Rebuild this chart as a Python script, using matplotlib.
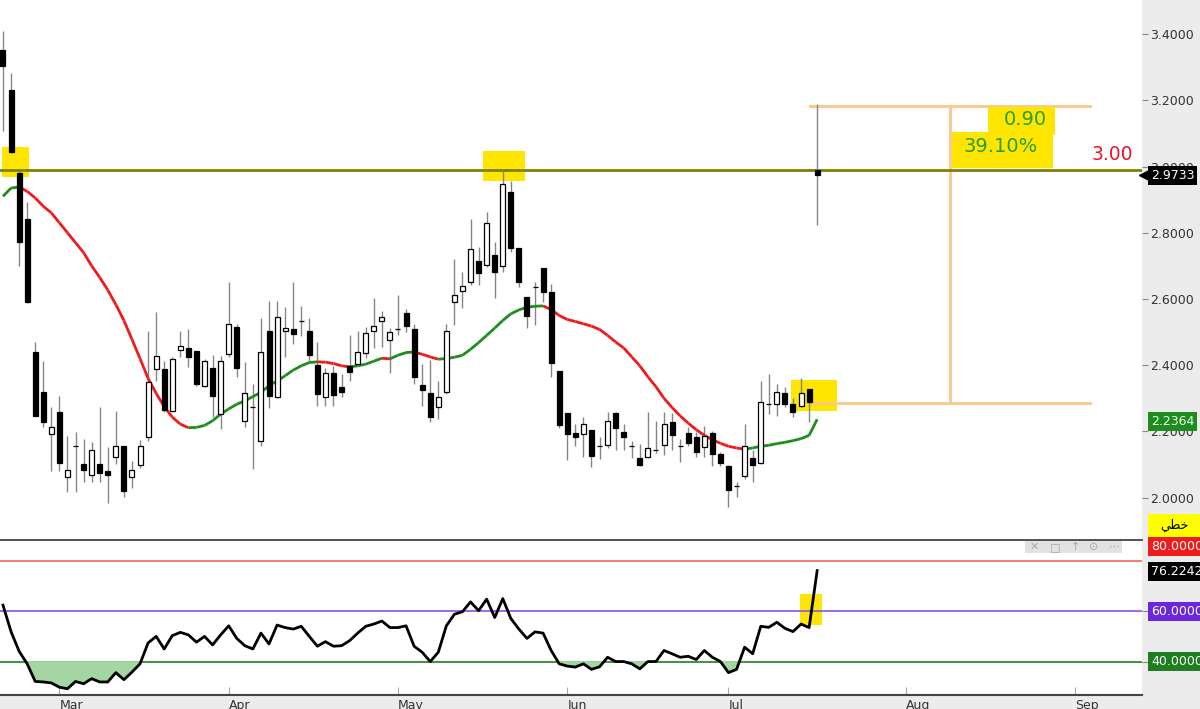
import matplotlib
matplotlib.use('Agg')
import matplotlib.pyplot as plt
import matplotlib.transforms as mtransforms
from matplotlib.collections import LineCollection
from matplotlib.patches import Rectangle
import numpy as np

# daily candles (one per trading day, index 0 = late Feb)
opens = [3.351, 3.230, 2.979, 2.842, 2.439, 2.318, 2.191, 2.258, 2.061, 2.155,
         2.100, 2.067, 2.100, 2.079, 2.124, 2.155, 2.061, 2.097, 2.182, 2.388,
         2.388, 2.261, 2.445, 2.452, 2.442, 2.336, 2.391, 2.252, 2.433, 2.515,
         2.230, 2.273, 2.170, 2.503, 2.303, 2.503, 2.509, 2.533, 2.503, 2.400,
         2.303, 2.376, 2.333, 2.397, 2.403, 2.436, 2.503, 2.533, 2.476, 2.509,
         2.558, 2.509, 2.339, 2.315, 2.273, 2.318, 2.591, 2.624, 2.652, 2.715,
         2.703, 2.733, 2.700, 2.924, 2.755, 2.606, 2.636, 2.694, 2.621, 2.382,
         2.255, 2.194, 2.191, 2.203, 2.155, 2.158, 2.255, 2.197, 2.155, 2.121,
         2.124, 2.145, 2.158, 2.227, 2.155, 2.194, 2.182, 2.152, 2.194, 2.133,
         2.094, 2.036, 2.064, 2.121, 2.106, 2.282, 2.282, 2.315, 2.282, 2.276,
         2.327, 2.990]
highs = [3.409, 3.282, 2.988, 2.894, 2.470, 2.412, 2.273, 2.306, 2.185, 2.197,
         2.176, 2.167, 2.273, 2.152, 2.261, 2.155, 2.112, 2.173, 2.503, 2.561,
         2.412, 2.424, 2.503, 2.509, 2.442, 2.418, 2.430, 2.427, 2.652, 2.524,
         2.409, 2.342, 2.542, 2.594, 2.594, 2.576, 2.652, 2.579, 2.542, 2.470,
         2.391, 2.397, 2.373, 2.491, 2.503, 2.515, 2.603, 2.564, 2.512, 2.612,
         2.570, 2.524, 2.403, 2.415, 2.352, 2.524, 2.721, 2.682, 2.842, 2.758,
         2.864, 2.773, 2.994, 2.955, 2.755, 2.606, 2.652, 2.694, 2.645, 2.382,
         2.255, 2.221, 2.242, 2.203, 2.182, 2.258, 2.258, 2.221, 2.170, 2.161,
         2.258, 2.230, 2.258, 2.255, 2.176, 2.212, 2.197, 2.215, 2.200, 2.139,
         2.097, 2.048, 2.221, 2.145, 2.352, 2.373, 2.342, 2.333, 2.300, 2.361,
         2.327, 3.188]
lows = [3.106, 3.040, 2.700, 2.588, 2.245, 2.212, 2.079, 2.079, 2.018, 2.018,
        2.046, 2.046, 2.046, 1.985, 2.100, 2.003, 2.030, 2.090, 2.170, 2.352,
        2.258, 2.258, 2.424, 2.394, 2.338, 2.333, 2.242, 2.206, 2.424, 2.364,
        2.212, 2.085, 2.155, 2.270, 2.300, 2.424, 2.464, 2.488, 2.409, 2.276,
        2.276, 2.276, 2.303, 2.352, 2.397, 2.421, 2.452, 2.455, 2.376, 2.490,
        2.500, 2.342, 2.276, 2.227, 2.236, 2.312, 2.521, 2.573, 2.642, 2.642,
        2.697, 2.603, 2.682, 2.742, 2.636, 2.512, 2.521, 2.591, 2.364, 2.209,
        2.115, 2.155, 2.124, 2.091, 2.118, 2.150, 2.145, 2.145, 2.121, 2.095,
        2.121, 2.136, 2.130, 2.145, 2.109, 2.155, 2.124, 2.124, 2.094, 2.094,
        1.973, 2.003, 2.055, 2.048, 2.100, 2.252, 2.245, 2.273, 2.242, 2.273,
        2.227, 2.824]
closes = [3.303, 3.045, 2.773, 2.591, 2.245, 2.227, 2.212, 2.106, 2.082, 2.155,
          2.082, 2.145, 2.073, 2.067, 2.155, 2.021, 2.082, 2.155, 2.349, 2.427,
          2.264, 2.418, 2.458, 2.424, 2.342, 2.412, 2.306, 2.412, 2.524, 2.391,
          2.315, 2.273, 2.439, 2.306, 2.545, 2.512, 2.494, 2.533, 2.430, 2.312,
          2.376, 2.309, 2.318, 2.379, 2.439, 2.497, 2.518, 2.545, 2.500, 2.509,
          2.518, 2.364, 2.324, 2.242, 2.303, 2.503, 2.612, 2.639, 2.752, 2.679,
          2.830, 2.682, 2.948, 2.755, 2.652, 2.548, 2.636, 2.621, 2.406, 2.218,
          2.191, 2.182, 2.221, 2.127, 2.155, 2.230, 2.209, 2.182, 2.155, 2.097,
          2.149, 2.145, 2.221, 2.188, 2.155, 2.164, 2.139, 2.185, 2.133, 2.106,
          2.024, 2.036, 2.155, 2.097, 2.288, 2.282, 2.318, 2.282, 2.258, 2.315,
          2.288, 2.9733]

# moving average
ma_values = [2.910, 2.935, 2.938, 2.925, 2.905, 2.880, 2.860, 2.830, 2.800, 2.770,
             2.740, 2.700, 2.665, 2.627, 2.583, 2.535, 2.478, 2.420, 2.360, 2.315,
             2.275, 2.243, 2.222, 2.211, 2.212, 2.218, 2.232, 2.252, 2.268, 2.282,
             2.292, 2.305, 2.318, 2.338, 2.352, 2.368, 2.385, 2.398, 2.408, 2.410,
             2.409, 2.405, 2.398, 2.395, 2.398, 2.403, 2.412, 2.421, 2.419, 2.430,
             2.438, 2.440, 2.433, 2.425, 2.418, 2.420, 2.424, 2.430, 2.448, 2.468,
             2.490, 2.512, 2.535, 2.555, 2.567, 2.575, 2.578, 2.579, 2.568, 2.550,
             2.538, 2.532, 2.525, 2.518, 2.508, 2.490, 2.470, 2.452, 2.425, 2.398,
             2.365, 2.335, 2.300, 2.272, 2.247, 2.225, 2.205, 2.188, 2.175, 2.164,
             2.155, 2.150, 2.146, 2.150, 2.155, 2.158, 2.163, 2.167, 2.172, 2.178,
             2.188, 2.2364]

rsi_values = [62.5, 52.0, 44.2, 39.2, 32.2, 32.0, 31.6, 29.9, 29.3, 32.2,
              31.3, 33.3, 32.0, 32.0, 35.7, 32.9, 35.9, 39.2, 47.5, 50.1,
              45.1, 50.4, 51.7, 50.7, 47.8, 50.1, 46.7, 50.7, 54.3, 49.3,
              46.4, 45.1, 51.4, 47.1, 54.6, 53.6, 53.0, 54.1, 50.1, 46.2,
              48.0, 46.2, 46.4, 48.4, 51.4, 54.1, 55.0, 56.2, 53.6, 53.6,
              54.3, 46.2, 43.8, 40.1, 43.8, 54.3, 58.9, 59.9, 63.8, 60.3,
              64.9, 57.6, 65.1, 57.2, 53.0, 49.3, 51.9, 51.4, 44.5, 39.2,
              38.3, 37.9, 39.2, 37.0, 38.0, 41.8, 40.1, 40.1, 39.2, 37.2,
              40.1, 40.1, 44.5, 43.2, 41.8, 42.2, 40.9, 44.5, 41.8, 40.1,
              35.7, 37.0, 45.8, 43.2, 54.1, 53.7, 55.7, 53.3, 52.0, 55.0,
              53.6, 76.2242]

month_ticks = [7, 28, 49, 70, 90, 112, 133]
month_labels = ['Mar', 'Apr', 'May', 'Jun', 'Jul', 'Aug', 'Sep']
price_ticks = [2.0, 2.2, 2.4, 2.6, 2.8, 3.0, 3.2, 3.4]

resistance = 2.99
range_low = 2.286
range_high = 3.183

x = np.arange(len(closes))
o = np.array(opens)
h = np.array(highs)
l = np.array(lows)
c = np.array(closes)
ma = np.array(ma_values)
rsi = np.array(rsi_values)

fig = plt.figure(figsize=(12, 7.09), dpi=100)
fig.patch.set_facecolor('#ececec')
ax = fig.add_axes([0, 0.2384, 0.9517, 0.7616])
ax2 = fig.add_axes([0, 0.0197, 0.9517, 0.2187], sharex=ax)

YELLOW = '#ffe600'
ORANGE = '#f9c88c'

# ---- main price panel ----
ax.set_xlim(-0.37, 141.3)
ax.set_ylim(1.872, 3.503)

# highlight boxes behind the candles
for x0, x1, y0, y1 in [(-0.12, 3.2, 2.968, 3.059), (59.6, 64.8, 2.956, 3.047), (97.8, 103.5, 2.261, 2.355)]:
    ax.add_patch(Rectangle((x0, y0), x1 - x0, y1 - y0, facecolor=YELLOW, edgecolor='none', zorder=1))

ax.axhline(resistance, color='#7f7f00', lw=2, zorder=1.5)

ax.vlines(x, l, h, color='#858585', lw=1, zorder=2)
bottoms = np.minimum(o, c)
heights = np.abs(c - o)
body_colors = ['black' if cc < oo else 'white' for oo, cc in zip(o, c)]
ax.bar(x, heights, bottom=bottoms, width=0.62, color=body_colors, edgecolor='black', lw=0.9, zorder=3)

# moving average, green when rising and red when falling
pts = np.column_stack([x, ma])
segs = np.stack([pts[:-1], pts[1:]], axis=1)
seg_colors = ['#1e8c1e' if ma[i + 1] >= ma[i] else '#ee1b1b' for i in range(len(ma) - 1)]
ax.add_collection(LineCollection(segs, colors=seg_colors, linewidths=2, zorder=2.6))

# measured move drawing
ax.plot([100.1, 134.9], [range_high, range_high], color=ORANGE, lw=2, zorder=1.2)
ax.plot([100.1, 134.9], [range_low, range_low], color=ORANGE, lw=2, zorder=1.2)
ax.plot([117.5, 117.5], [range_low, range_high], color=ORANGE, lw=2, zorder=1.2)
ax.add_patch(Rectangle((122.2, 3.095), 8.3, 0.085, facecolor=YELLOW, edgecolor='none', zorder=1.3))
ax.add_patch(Rectangle((117.7, 2.995), 12.6, 0.109, facecolor=YELLOW, edgecolor='none', zorder=1.3))
ax.text(126.8, 3.143, '0.90', color='#2a9d2a', fontsize=14, ha='center', va='center', zorder=4)
ax.text(123.7, 3.062, '39.10%', color='#2a9d2a', fontsize=14, ha='center', va='center', zorder=4)
ax.text(137.6, 3.035, '3.00', color='#e8142a', fontsize=13.5, ha='center', va='center', zorder=4)

ax.yaxis.tick_right()
ax.set_yticks(price_ticks)
ax.set_yticklabels(['%.4f' % p for p in price_ticks])
ax.tick_params(axis='y', direction='out', length=4, pad=2, labelsize=9, colors='#888888', labelcolor='#333333')
ax.tick_params(axis='x', bottom=False, labelbottom=False)
for s in ax.spines.values():
    s.set_visible(False)

trans = mtransforms.blended_transform_factory(ax.transAxes, ax.transData)
ax.text(1.008, closes[-1], '%.4f' % closes[-1], transform=trans, color='white', fontsize=9,
        ha='left', va='center', zorder=5, clip_on=False,
        bbox=dict(boxstyle='square,pad=0.22', fc='black', ec='none'))
ax.plot([1.003], [closes[-1]], marker='<', color='black', markersize=8, transform=trans, clip_on=False, zorder=5)
ax.text(1.008, ma_values[-1] - 0.006, '%.4f' % ma_values[-1], transform=trans, color='#eaffea', fontsize=9,
        ha='left', va='center', zorder=5, clip_on=False,
        bbox=dict(boxstyle='square,pad=0.22', fc='#1e8c1e', ec='none'))

# ---- RSI panel ----
ax2.set_ylim(26.8, 88.4)
ax2.add_patch(Rectangle((98.9, 54.8), 2.7, 12.0, facecolor=YELLOW, edgecolor='none', zorder=1))
ax2.axhline(80, color='#f07070', lw=1.3, zorder=1.5)
ax2.axhline(60, color='#9060e0', lw=1.3, zorder=1.5)
ax2.axhline(40, color='#2e8b2e', lw=1.3, zorder=1.5)
ax2.fill_between(x, rsi, 40, where=rsi < 40, interpolate=True, color='#a3d6a3', zorder=1.8)
ax2.plot(x, rsi, color='black', lw=2, zorder=3)

ax2.yaxis.tick_right()
ax2.set_yticks([60, 40])
ax2.set_yticklabels(['', ''])
ax2.tick_params(axis='y', direction='out', length=4, colors='#888888')
ax2.set_xticks(month_ticks)
ax2.set_xticklabels(month_labels)
ax2.tick_params(axis='x', direction='in', length=6, color='#aaaaaa', labelsize=9, pad=3, labelcolor='#333333')
for lbl in ax2.get_xticklabels():
    lbl.set_ha('left')
for side in ['left', 'right']:
    ax2.spines[side].set_visible(False)
ax2.spines['top'].set_color('#333333')
ax2.spines['top'].set_linewidth(1.2)
ax2.spines['bottom'].set_color('#444444')
ax2.spines['bottom'].set_linewidth(1.5)

trans2 = mtransforms.blended_transform_factory(ax2.transAxes, ax2.transData)
for val, txt, col in [(86.0, '80.0000', '#ee1c1c'), (76.0, '%.4f' % rsi_values[-1], 'black'),
                      (60.0, '60.0000', '#6a28d8'), (40.0, '40.0000', '#1e7d1e')]:
    ax2.text(1.008, val, txt, transform=trans2, color='white', fontsize=9, ha='left', va='center',
             clip_on=False, zorder=5, bbox=dict(boxstyle='square,pad=0.25', fc=col, ec='none'))

# small toolbar in the indicator pane
ax2.add_patch(Rectangle((0.8976, 0.915), 0.085, 0.08, transform=ax2.transAxes, facecolor='#e2e2e2',
                        edgecolor='none', zorder=4))
for xp, sym in zip([1034, 1055, 1075, 1094, 1114], ['✕', '□', '↑', '⊙', '⋯']):
    ax2.text(xp / 1142, 0.955, sym, transform=ax2.transAxes, color='#a8a8a8', fontsize=8,
             ha='center', va='center', zorder=5)

# chart type label
fig.patches.append(Rectangle((1148 / 1200, 1 - 537 / 709), 52 / 1200, 23 / 709, transform=fig.transFigure,
                             facecolor='#ffff00', edgecolor='none', zorder=3))
fig.text(1174 / 1200, 1 - 525 / 709, '\ufef2\ufec4\ufea7', fontsize=9, color='black', ha='center', va='center',
         zorder=4)

plt.savefig('out.png', dpi=100, facecolor=fig.get_facecolor())
